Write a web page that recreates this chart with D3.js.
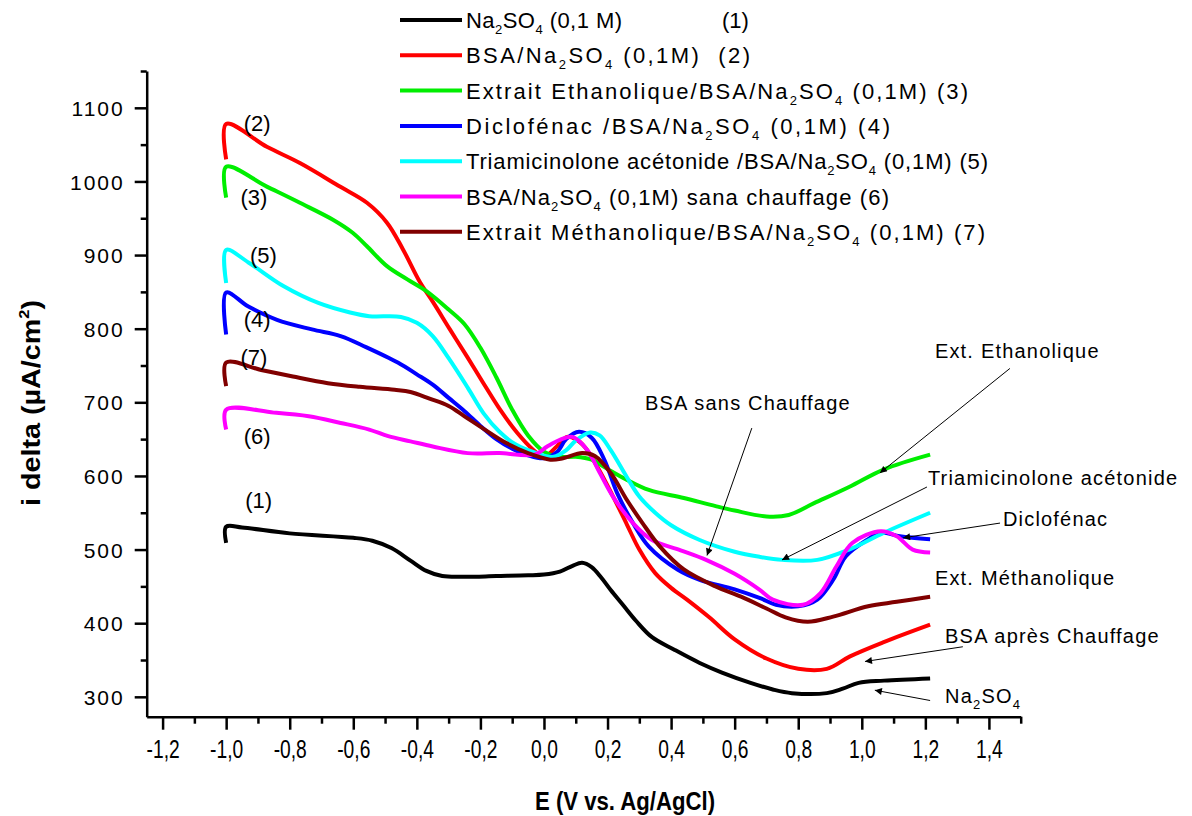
<!DOCTYPE html>
<html><head><meta charset="utf-8">
<script src="https://cdn.jsdelivr.net/npm/d3@7"></script>
<style>
body{margin:0;background:#fff;}
svg text{font-family:Arial,"Liberation Sans",sans-serif;}
</style></head>
<body><svg id="c" width="1192" height="816"></svg>
<script>
// ---------- DATA ----------
const seriesNames = ["Na_2SO_4 (0,1 M)", "BSA/Na_2SO_4 (0,1M)  (2)", "Extrait Ethanolique/BSA/Na_2SO_4 (0,1M) (3)",
  "Diclofénac /BSA/Na_2SO_4 (0,1M) (4)", "Triamicinolone acétonide /BSA/Na_2SO_4 (0,1M) (5)",
  "BSA/Na_2SO_4 (0,1M) sana chauffage (6)", "Extrait Méthanolique/BSA/Na_2SO_4 (0,1M) (7)"];
const firstTag = "(1)";
const seriesColors = ["#000000","#ff0000","#00ee00","#0000ff","#00ffff","#ff00ff","#800000"];
const curveTags = ["(1)","(2)","(3)","(4)","(5)","(6)","(7)"];

const s1 = [[-1,509],[-1,531],[-0.95,530],[-0.8,522],[-0.6,516],[-0.54,512],[-0.48,502],[-0.42,485],[-0.37,471],[-0.32,464],[-0.25,463],[-0.15,464],[-0.05,465],[0.0,466],[0.05,470],[0.09,478],[0.12,482],[0.15,476],[0.18,462],[0.21,445],[0.25,424],[0.29,403],[0.34,381],[0.41,364],[0.49,346],[0.56,333],[0.65,319],[0.72,310],[0.78,305],[0.89,305],[0.94,311],[0.99,319],[1.07,322],[1.215,325]];
const s2 = [[-1,1030],[-1,1078],[-0.872,1047],[-0.768,1025],[-0.642,993],[-0.557,971],[-0.494,944],[-0.444,908],[-0.39,863],[-0.349,836],[-0.296,799],[-0.242,762],[-0.192,727],[-0.138,690],[-0.085,659],[-0.035,636],[0.0,626],[0.04,640],[0.072,653],[0.1,650],[0.129,639],[0.167,613],[0.214,575],[0.261,534],[0.3,500],[0.35,468],[0.4,448],[0.45,432],[0.52,408],[0.6,378],[0.7,352],[0.8,338],[0.89,338],[0.963,355],[1.067,374],[1.215,398]];
const s3 = [[-1,978],[-1,1020],[-0.872,993],[-0.768,971],[-0.664,948],[-0.601,930],[-0.557,912],[-0.494,885],[-0.43,867],[-0.37,851],[-0.3,826],[-0.25,806],[-0.2,774],[-0.15,734],[-0.1,690],[-0.05,655],[0.0,633],[0.05,626],[0.1,626],[0.15,622],[0.19,612],[0.26,595],[0.33,581],[0.44,570],[0.54,559],[0.6,553],[0.7,545],[0.77,547],[0.85,563],[0.96,585],[1.07,609],[1.215,629]];
const s4 = [[-1,792],[-1,849],[-0.93,830],[-0.84,812],[-0.73,799],[-0.64,790],[-0.56,775],[-0.46,754],[-0.4,738],[-0.35,724],[-0.3,706],[-0.25,688],[-0.2,668],[-0.15,650],[-0.1,637],[-0.05,628],[0.0,624],[0.04,632],[0.07,650],[0.11,660],[0.15,652],[0.19,622],[0.23,577],[0.28,536],[0.33,504],[0.42,473],[0.49,459],[0.6,446],[0.68,434],[0.73,425],[0.8,423],[0.86,432],[0.91,459],[0.95,491],[1.02,514],[1.06,523],[1.12,518],[1.215,514]];
const s5 = [[-1,862],[-1,907],[-0.93,890],[-0.82,858],[-0.71,835],[-0.61,822],[-0.55,817],[-0.45,816],[-0.4,808],[-0.35,790],[-0.3,760],[-0.24,720],[-0.19,685],[-0.14,660],[-0.09,643],[-0.03,632],[0.03,626],[0.07,635],[0.1,648],[0.145,659],[0.175,655],[0.21,635],[0.26,599],[0.3,572],[0.35,550],[0.4,533],[0.49,513],[0.6,497],[0.68,490],[0.75,486],[0.86,486],[0.96,500],[1.07,523],[1.215,550]];
const s6 = [[-1,663],[-1,690],[-0.85,686],[-0.74,681],[-0.64,672],[-0.55,663],[-0.49,654],[-0.42,647],[-0.35,640],[-0.24,631],[-0.14,631],[-0.03,629],[0.01,640],[0.05,649],[0.09,653],[0.135,636],[0.176,604],[0.217,572],[0.28,536],[0.34,513],[0.43,499],[0.51,486],[0.6,467],[0.68,445],[0.72,432],[0.815,425],[0.87,441],[0.92,477],[0.97,509],[1.06,525],[1.11,518],[1.16,500],[1.215,496]];
const s7 = [[-1,722],[-1,754],[-0.89,744],[-0.79,735],[-0.68,726],[-0.58,721],[-0.47,717],[-0.42,714],[-0.36,705],[-0.3,695],[-0.25,681],[-0.19,664],[-0.12,645],[-0.05,631],[0.02,622],[0.06,624],[0.12,631],[0.16,627],[0.21,604],[0.26,568],[0.31,536],[0.365,504],[0.44,473],[0.54,450],[0.62,436],[0.7,420],[0.76,408],[0.83,402],[0.91,409],[1.02,423],[1.11,429],[1.215,436]];
const seriesData = [s1,s2,s3,s4,s5,s6,s7];

const xMajorTicks = [-1.2,-1.0,-0.8,-0.6,-0.4,-0.2,0.0,0.2,0.4,0.6,0.8,1.0,1.2,1.4];
const yMajorTicks = [300,400,500,600,700,800,900,1000,1100];

const annoTexts = ["Ext. Ethanolique","BSA sans Chauffage","Triamicinolone acétonide","Diclofénac","Ext. Méthanolique","BSA après Chauffage","Na_2SO_4"];
const annoAnchor = [[1.23,760],[0.318,689],[1.208,588],[1.444,532],[1.23,452],[1.262,373],[1.262,292]];
const annoArrowFrom = [[1.466,746],[0.654,665],[1.205,585],[1.435,536],null,[1.318,368],[1.215,295]];
const annoArrowTo = [[1.057,604],[0.513,492],[0.749,486],[1.13,516],null,[1.01,348],[1.041,309]];
const tagAnchor = [[-0.94,556],[-0.945,1069],[-0.955,968],[-0.945,802],[-0.925,889],[-0.945,643],[-0.955,751]];

// ---------- LAYOUT ----------
const legendTextWidths = [156,284,502,424,522,423,519];

// ---------- CHART ----------
const svg = d3.select("#c");
const x = d3.scaleLinear().domain([-1.25,1.5]).range([146.7,1020.7]);
const y = d3.scaleLinear().domain([273,1150]).range([716.7,71]);
const fmt = d => d3.format(".1f")(d).replace(".",",").replace("\u2212","-");

function richText(sel, str, subSize, shift){
  const parts = str.split(/(_\d)/);
  let pending = 0;
  parts.forEach(p=>{
    if(!p) return;
    if(p[0]==="_"){
      sel.append("tspan").attr("font-size",subSize).attr("dy",shift+pending).text(p.slice(1));
      pending = -shift;
    } else {
      const ts = sel.append("tspan").text(p);
      if(pending) ts.attr("dy",pending);
      pending = 0;
    }
  });
}

// axes
const xMinor = d3.range(-12,16).map(i=>i/10).filter(v=>!xMajorTicks.some(t=>Math.abs(t-v)<1e-6));
const yMinor = d3.range(350,1151,100);
const gx = svg.append("g").attr("transform",`translate(0,${y.range()[0]})`);
gx.call(d3.axisBottom(x).tickValues(xMajorTicks).tickSize(13).tickSizeOuter(0).tickFormat(fmt));
gx.append("g").call(d3.axisBottom(x).tickValues(xMinor).tickSize(7).tickFormat("")).select(".domain").remove();
gx.selectAll("path,line").attr("stroke","#000").attr("stroke-width",2.5);
gx.selectAll(".tick text").attr("font-size",26).attr("fill","#000").attr("y",41).attr("dy",0)
  .attr("transform","scale(0.74,1)");

const gy = svg.append("g").attr("transform",`translate(${x.range()[0]},0)`);
gy.call(d3.axisLeft(y).tickValues(yMajorTicks).tickSize(12).tickSizeOuter(0).tickFormat(d3.format("d")));
gy.append("g").call(d3.axisLeft(y).tickValues(yMinor).tickSize(6).tickFormat("")).select(".domain").remove();
gy.selectAll("path,line").attr("stroke","#000").attr("stroke-width",2.5);
gy.selectAll(".tick text").attr("font-size",21).attr("fill","#000").attr("x",-22).attr("dy","0.36em")
  .attr("letter-spacing",2);

// axis titles
const yt = svg.append("text").attr("transform","translate(40,403) rotate(-90)").attr("text-anchor","middle")
  .attr("font-size",26).attr("font-weight","bold").attr("textLength",206).attr("lengthAdjust","spacingAndGlyphs");
yt.append("tspan").text("i delta (µA/cm");
yt.append("tspan").attr("font-size",15).attr("dy",-11).text("2");
yt.append("tspan").attr("dy",11).text(")");
svg.append("text").attr("x",625).attr("y",810).attr("text-anchor","middle").attr("font-size",26)
  .attr("font-weight","bold").attr("textLength",180).attr("lengthAdjust","spacingAndGlyphs").text("E (V vs. Ag/AgCl)");

// curves
const line = d3.line().x(d=>x(d[0])).y(d=>y(d[1])).curve(d3.curveCatmullRom.alpha(0.5));
seriesData.forEach((s,i)=>{
  svg.append("path").datum(s).attr("d",line).attr("fill","none").attr("stroke",seriesColors[i])
    .attr("stroke-width",4).attr("stroke-linejoin","round");
});

// curve tags
curveTags.forEach((t,i)=>{
  svg.append("text").attr("x",x(tagAnchor[i][0])).attr("y",y(tagAnchor[i][1])).attr("font-size",22).text(t);
});

// legend
const lg = svg.append("g");
seriesNames.forEach((n,i)=>{
  const yy = 20 + i*35.3;
  lg.append("line").attr("x1",400).attr("x2",462).attr("y1",yy).attr("y2",yy)
    .attr("stroke",seriesColors[i]).attr("stroke-width",4);
  const t = lg.append("text").attr("x",466).attr("y",yy+8).attr("font-size",22).style("white-space","pre")
    .attr("textLength",legendTextWidths[i]).attr("lengthAdjust","spacing");
  richText(t,n,13,6);
  if(i===0) lg.append("text").attr("x",722).attr("y",yy+8).attr("font-size",22).text(firstTag);
});

// annotations
svg.append("defs").append("marker").attr("id","ah").attr("viewBox","0 0 10 10").attr("refX",10).attr("refY",5)
  .attr("markerWidth",12).attr("markerHeight",7).attr("orient","auto").attr("markerUnits","userSpaceOnUse")
  .append("path").attr("d","M0,0 L10,5 L0,10 Z").attr("fill","#000");
annoTexts.forEach((a,i)=>{
  const t = svg.append("text").attr("x",x(annoAnchor[i][0])).attr("y",y(annoAnchor[i][1])).attr("font-size",20)
    .attr("letter-spacing",1.2);
  richText(t,a,13,6);
  if(annoArrowFrom[i]){
    svg.append("line").attr("x1",x(annoArrowFrom[i][0])).attr("y1",y(annoArrowFrom[i][1]))
      .attr("x2",x(annoArrowTo[i][0])).attr("y2",y(annoArrowTo[i][1]))
      .attr("stroke","#000").attr("stroke-width",1).attr("marker-end","url(#ah)");
  }
});
</script></body></html>
